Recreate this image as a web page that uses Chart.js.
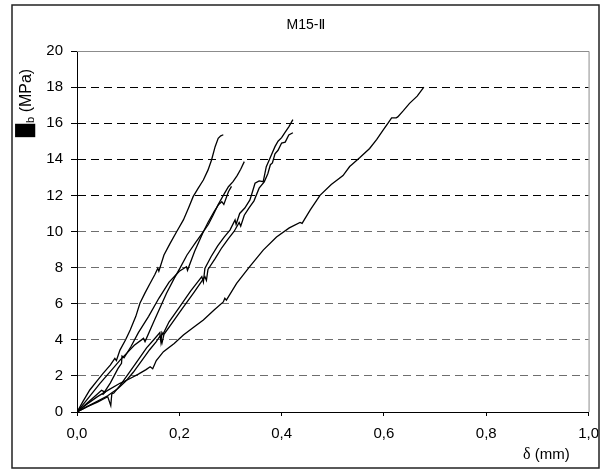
<!DOCTYPE html>
<html>
<head>
<meta charset="utf-8">
<script src="https://cdn.jsdelivr.net/npm/chart.js@4"></script>
<style>
  body { margin: 0; background: #fff; }
  canvas { display: block; }
</style>
</head>
<body>
<canvas id="bond_chart" width="608" height="470"></canvas>
<script>
// Slip (mm) vs bond stress (MPa), five specimens of series M15-II
const curveA_slip = [0, 0.012, 0.025, 0.04, 0.051, 0.065, 0.074, 0.077, 0.084, 0.095, 0.104, 0.115, 0.123, 0.133, 0.143, 0.152, 0.158, 0.160, 0.170, 0.182, 0.195, 0.208, 0.218, 0.227, 0.237, 0.247, 0.256, 0.263, 0.270, 0.276, 0.281, 0.286];
const curveA_tau  = [0, 0.6, 1.22, 1.75, 2.14, 2.6, 2.97, 2.85, 3.43, 4.0, 4.54, 5.3, 6.02, 6.6, 7.13, 7.6, 7.96, 7.8, 8.7, 9.34, 10.0, 10.64, 11.3, 11.93, 12.4, 12.85, 13.4, 13.96, 14.7, 15.16, 15.3, 15.36];

const curveB_slip = [0, 0.02, 0.045, 0.07, 0.085, 0.097, 0.112, 0.13, 0.133, 0.15, 0.175, 0.19, 0.201, 0.215, 0.232, 0.247, 0.257, 0.266, 0.276, 0.288, 0.296, 0.305, 0.313, 0.32, 0.327];
const curveB_tau  = [0, 0.7, 1.59, 2.4, 2.9, 3.25, 3.7, 4.08, 3.9, 5.0, 6.58, 7.4, 7.96, 8.7, 9.4, 9.99, 10.4, 10.9, 11.5, 12.1, 12.48, 12.76, 13.1, 13.45, 13.87];

const curveC_slip = [0, 0.02, 0.04, 0.048, 0.055, 0.05, 0.065, 0.08, 0.087, 0.088, 0.092, 0.105, 0.12, 0.14, 0.16, 0.18, 0.2, 0.214, 0.216, 0.23, 0.247, 0.256, 0.268, 0.277, 0.283, 0.287, 0.296, 0.302];
const curveC_tau  = [0, 0.5, 1.0, 1.2, 1.1, 0.95, 1.6, 2.4, 2.7, 3.1, 3.0, 3.6, 4.4, 5.3, 6.3, 7.2, 7.8, 8.05, 7.85, 8.9, 9.99, 10.5, 11.1, 11.5, 11.65, 11.5, 12.2, 12.5];

const curveD_slip = [0, 0.02, 0.04, 0.06, 0.066, 0.068, 0.072, 0.085, 0.1, 0.12, 0.136, 0.15, 0.162, 0.164, 0.166, 0.168, 0.18, 0.2, 0.222, 0.244, 0.247, 0.25, 0.262, 0.275, 0.288, 0.299, 0.309, 0.311, 0.318, 0.328, 0.338, 0.343, 0.348, 0.356, 0.364, 0.37, 0.377, 0.387, 0.393, 0.40, 0.407, 0.414, 0.422];
const curveD_tau  = [0, 0.3, 0.55, 0.85, 0.35, 1.0, 1.05, 1.5, 2.1, 2.9, 3.55, 4.0, 4.4, 3.9, 4.4, 4.3, 5.0, 5.8, 6.7, 7.5, 7.2, 7.96, 8.6, 9.2, 9.7, 10.08, 10.64, 10.4, 11.0, 11.3, 11.75, 12.2, 12.67, 12.8, 12.76, 13.59, 14.05, 14.7, 15.0, 15.2, 15.5, 15.8, 16.2];

const curveE_slip = [0, 0.03, 0.06, 0.08, 0.095, 0.11, 0.128, 0.142, 0.155, 0.162, 0.166, 0.17, 0.185, 0.205, 0.228, 0.25, 0.253, 0.256, 0.27, 0.283, 0.296, 0.307, 0.317, 0.32, 0.327, 0.336, 0.346, 0.356, 0.366, 0.373, 0.378, 0.382, 0.387, 0.393, 0.40, 0.407, 0.414, 0.422];
const curveE_tau  = [0, 0.45, 0.9, 1.3, 1.7, 2.2, 2.9, 3.45, 3.9, 4.2, 3.8, 4.3, 4.9, 5.7, 6.6, 7.5, 7.3, 7.9, 8.5, 9.1, 9.6, 10.0, 10.5, 10.3, 10.9, 11.3, 11.7, 12.4, 12.75, 13.2, 13.7, 13.8, 14.3, 14.5, 14.9, 14.95, 15.35, 15.47];

const curveF_slip = [0, 0.02, 0.04, 0.06, 0.084, 0.1, 0.12, 0.135, 0.143, 0.148, 0.155, 0.169, 0.19, 0.208, 0.228, 0.247, 0.268, 0.286, 0.289, 0.292, 0.312, 0.336, 0.364, 0.39, 0.415, 0.436, 0.44, 0.456, 0.475, 0.497, 0.52, 0.533, 0.537, 0.553, 0.572, 0.586, 0.598, 0.608, 0.615, 0.624, 0.627, 0.638, 0.65, 0.665, 0.678];
const curveF_tau  = [0, 0.45, 0.85, 1.2, 1.59, 1.8, 2.1, 2.35, 2.51, 2.4, 2.85, 3.34, 3.8, 4.27, 4.7, 5.1, 5.65, 6.1, 6.3, 6.2, 7.13, 8.0, 8.97, 9.7, 10.2, 10.5, 10.45, 11.2, 12.0, 12.6, 13.1, 13.6, 13.7, 14.1, 14.6, 15.1, 15.6, 16.0, 16.3, 16.3, 16.35, 16.7, 17.1, 17.5, 18.0];

const chart_title = "M15-\u2161";
const slip_ticks = [0, 0.2, 0.4, 0.6, 0.8, 1.0];
const stress_ticks = [0, 2, 4, 6, 8, 10, 12, 14, 16, 18, 20];

function make_points(slip, tau) {
  return slip.map((x, i) => ({x: x, y: tau[i]}));
}

function make_dataset(slip, tau) {
  return {
    data: make_points(slip, tau),
    showLine: true,
    borderColor: '#000',
    borderWidth: 1.3,
    pointRadius: 0,
    fill: false
  };
}

// white page, outer frame, plot frame and the hand drawn axis titles
const frame_plugin = {
  id: 'frame',
  beforeDraw(chart) {
    const ctx = chart.ctx;
    ctx.save();
    ctx.fillStyle = '#fff';
    ctx.fillRect(0, 0, chart.width, chart.height);
    ctx.restore();
  },
  afterDraw(chart) {
    const ctx = chart.ctx;
    const a = chart.chartArea;
    ctx.save();
    // top and right edge of plot area
    ctx.strokeStyle = '#8c8c8c';
    ctx.lineWidth = 1;
    ctx.beginPath();
    ctx.moveTo(a.left, Math.round(a.top) + 0.5);
    ctx.lineTo(a.right + 0.5, Math.round(a.top) + 0.5);
    ctx.lineTo(a.right + 0.5, a.bottom);
    ctx.stroke();

    // outer frame
    ctx.strokeStyle = '#222';
    ctx.lineWidth = 1.5;
    ctx.strokeRect(12, 5, 587, 463);

    // title
    ctx.fillStyle = '#000';
    ctx.font = '14px "Liberation Sans", "DejaVu Sans", sans-serif';
    ctx.textAlign = 'center';
    ctx.textBaseline = 'middle';
    ctx.fillText(chart_title, 306, 25);

    // x title: delta (mm)
    ctx.textBaseline = 'alphabetic';
    ctx.textAlign = 'left';
    ctx.font = '16px "Liberation Serif", serif';
    const delta_w = ctx.measureText('\u03b4').width;
    ctx.fillText('\u03b4', 523, 459);
    ctx.font = '15px "Liberation Sans", sans-serif';
    ctx.fillText(' (mm)', 523 + delta_w, 459);

    // y title: tau_b (MPa), rotated; the symbol shows as a solid block
    ctx.translate(31, 137);
    ctx.rotate(-Math.PI / 2);
    ctx.font = '17px "DejaVu Sans", sans-serif';
    ctx.fillText('\u2588', 0, 0);
    let pos = ctx.measureText('\u2588').width;
    ctx.font = '11px "Liberation Sans", sans-serif';
    ctx.fillText('b', pos + 1, 3);
    pos += ctx.measureText('b').width + 1;
    ctx.font = '16px "Liberation Sans", sans-serif';
    ctx.fillText(' (MPa)', pos, 0);
    ctx.restore();
  }
};

function contentLoaded() {
  new Chart(document.getElementById('bond_chart'), {
    type: 'scatter',
    data: {
      datasets: [
        make_dataset(curveA_slip, curveA_tau),
        make_dataset(curveB_slip, curveB_tau),
        make_dataset(curveC_slip, curveC_tau),
        make_dataset(curveD_slip, curveD_tau),
        make_dataset(curveE_slip, curveE_tau),
        make_dataset(curveF_slip, curveF_tau)
      ]
    },
    options: {
      responsive: false,
      animation: false,
      events: [],
      layout: { padding: { left: 0, right: 19, top: 51, bottom: 0 } },
      plugins: {
        legend: { display: false },
        tooltip: { enabled: false }
      },
      scales: {
        x: {
          type: 'linear',
          min: slip_ticks[0],
          max: slip_ticks[slip_ticks.length - 1],
          afterFit: s => { s.height = 58; },
          afterBuildTicks: s => { s.ticks = slip_ticks.map(v => ({value: v})); },
          ticks: {
            color: '#000',
            padding: 9,
            maxRotation: 0,
            autoSkip: false,
            font: { family: 'Liberation Sans', size: 15 },
            callback: v => Number(v).toFixed(1).replace('.', ',')
          },
          grid: {
            drawOnChartArea: false,
            drawTicks: true,
            tickLength: 4,
            tickColor: '#000'
          },
          border: { display: true, color: '#000', width: 1 }
        },
        y: {
          type: 'linear',
          min: stress_ticks[0],
          max: stress_ticks[stress_ticks.length - 1],
          afterFit: s => { s.width = 77; },
          afterBuildTicks: s => { s.ticks = stress_ticks.map(v => ({value: v})); },
          ticks: {
            color: '#000',
            padding: 8,
            font: { family: 'Liberation Sans', size: 15 }
          },
          grid: {
            drawTicks: true,
            tickLength: 6,
            tickColor: '#000',
            lineWidth: 1,
            color: c => (c.tick && c.tick.value >= 12 && c.tick.value < 20) ? '#000' : '#6e6e6e'
          },
          border: { display: true, color: '#000', width: 1, dash: [8, 5] }
        }
      }
    },
    plugins: [frame_plugin]
  });
}

document.addEventListener('DOMContentLoaded', contentLoaded, false);
</script>
</body>
</html>
